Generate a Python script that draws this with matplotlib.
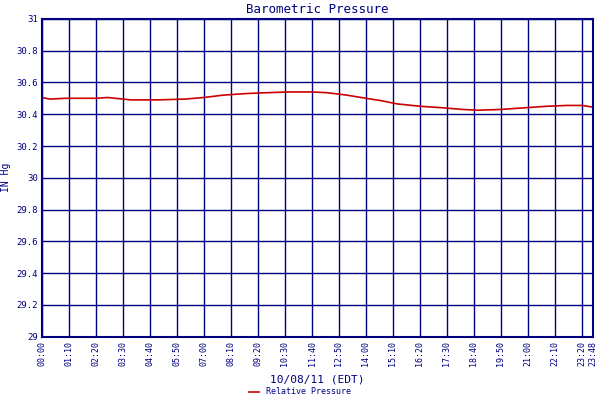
import matplotlib
matplotlib.use("Agg")
import matplotlib.pyplot as plt

# minutes since midnight and pressure (inHg)
minutes = [0, 20, 60, 140, 170, 230, 300, 370, 420, 470, 530, 580, 640, 700, 740, 790,
           840, 880, 920, 980, 1040, 1090, 1130, 1190, 1250, 1310, 1360, 1400, 1428]
pressure = [30.505, 30.495, 30.50, 30.50, 30.505, 30.49, 30.49, 30.495, 30.505, 30.52,
            30.53, 30.535, 30.54, 30.54, 30.535, 30.52, 30.50, 30.485, 30.465, 30.45,
            30.44, 30.43, 30.425, 30.43, 30.44, 30.45, 30.455, 30.455, 30.445]
tick_min = [i * 70 for i in range(21)] + [1428]
tick_lbl = ["%02d:%02d" % (m // 60, m % 60) for m in tick_min]
yticks = [29, 29.2, 29.4, 29.6, 29.8, 30, 30.2, 30.4, 30.6, 30.8, 31]

navy = "#000080"
plt.rcParams["font.family"] = "DejaVu Sans Mono"
fig = plt.figure(figsize=(6, 4), dpi=100)
ax = fig.add_axes([0.07, 0.158, 0.918, 0.795])
ax.plot(minutes, pressure, color="#cc0000", lw=1.2, label="Relative Pressure")
ax.set_xlim(0, 1428)
ax.set_ylim(29, 31)
ax.set_xticks(tick_min)
ax.set_xticklabels(tick_lbl, rotation=90, fontsize=6, color=navy)
ax.set_yticks(yticks)
ax.set_yticklabels(["%g" % v for v in yticks], fontsize=6.5, color=navy)
ax.tick_params(length=0, pad=3)
ax.grid(color=navy, lw=1)
for s in ax.spines.values():
    s.set_color(navy)
    s.set_linewidth(1.5)
ax.set_title("Barometric Pressure", fontsize=9, color=navy, pad=4)
ax.set_ylabel("IN Hg", fontsize=7, color=navy, labelpad=4)
ax.set_xlabel("10/08/11 (EDT)", fontsize=8, color=navy, labelpad=6)
fig.legend(loc="lower center", bbox_to_anchor=(0.5, -0.01), frameon=False,
           fontsize=6, labelcolor=navy, handlelength=1.2)
fig.savefig("out.png")
